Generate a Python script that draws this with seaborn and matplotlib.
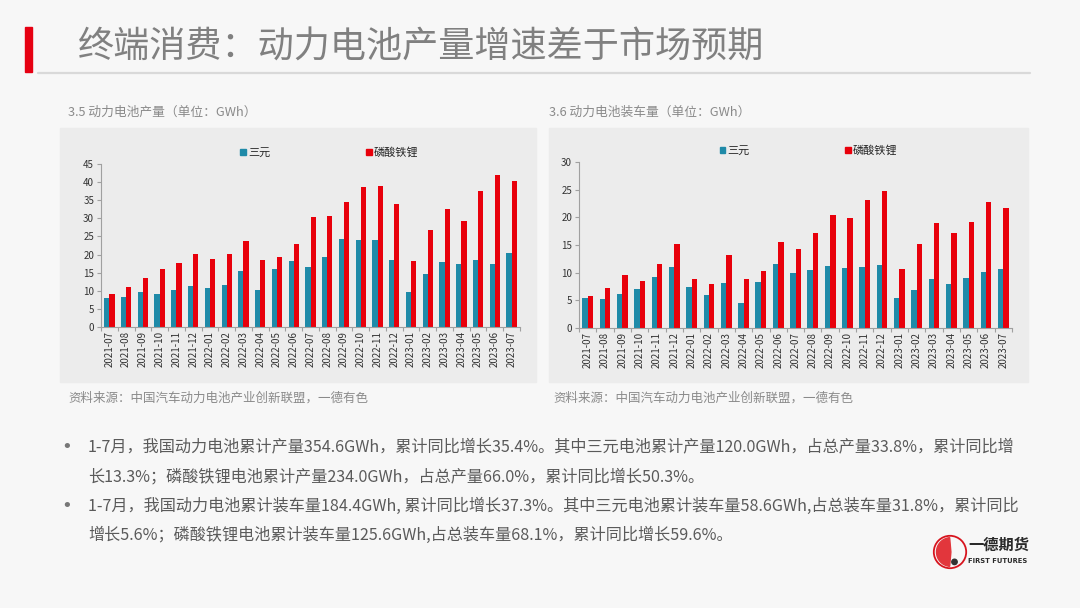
import matplotlib
matplotlib.use("Agg")
import matplotlib.pyplot as plt
import matplotlib.patches as mpatches
import pandas as pd
import seaborn as sns

months = ["2021-07", "2021-08", "2021-09", "2021-10", "2021-11", "2021-12",
          "2022-01", "2022-02", "2022-03", "2022-04", "2022-05", "2022-06",
          "2022-07", "2022-08", "2022-09", "2022-10", "2022-11", "2022-12",
          "2023-01", "2023-02", "2023-03", "2023-04", "2023-05", "2023-06",
          "2023-07"]

# 3.5 动力电池产量 (GWh)
prod_ncm = [8.0, 8.3, 9.6, 9.1, 10.3, 11.3, 10.8, 11.5, 15.5, 10.3, 16.1, 18.3,
            16.6, 19.2, 24.3, 24.1, 24.1, 18.4, 9.6, 14.5, 18.0, 17.5, 18.4, 17.5,
            20.3]
prod_lfp = [9.2, 11.1, 13.4, 16.0, 17.8, 20.1, 18.7, 20.1, 23.7, 18.6, 19.3, 23.0,
            30.3, 30.6, 34.6, 38.6, 39.0, 33.9, 18.3, 26.7, 32.6, 29.2, 37.6, 42.0,
            40.4]

# 3.6 动力电池装车量 (GWh)
inst_ncm = [5.5, 5.2, 6.2, 7.1, 9.2, 11.0, 7.4, 5.9, 8.1, 4.5, 8.3, 11.6,
            9.9, 10.4, 11.2, 10.8, 11.0, 11.3, 5.4, 6.8, 8.8, 8.0, 9.1, 10.1,
            10.6]
inst_lfp = [5.85, 7.2, 9.5, 8.5, 11.6, 15.1, 8.9, 7.9, 13.2, 8.9, 10.3, 15.5,
            14.3, 17.2, 20.4, 19.8, 23.1, 24.7, 10.7, 15.2, 19.0, 17.2, 19.2, 22.7,
            21.7]

series_names = ["三元", "磷酸铁锂"]
palette = {"三元": "#1F8AA8", "磷酸铁锂": "#E8000B"}

bullets = [
    "1-7月，我国动力电池累计产量354.6GWh，累计同比增长35.4%。其中三元电池累计产量120.0GWh，占总产量33.8%，累计同比增",
    "长13.3%；磷酸铁锂电池累计产量234.0GWh，占总产量66.0%，累计同比增长50.3%。",
    "1-7月，我国动力电池累计装车量184.4GWh, 累计同比增长37.3%。其中三元电池累计装车量58.6GWh,占总装车量31.8%，累计同比",
    "增长5.6%；磷酸铁锂电池累计装车量125.6GWh,占总装车量68.1%，累计同比增长59.6%。",
]


def long_df(a, b):
    return pd.DataFrame({
        "month": months * 2,
        "value": a + b,
        "type": [series_names[0]] * len(months) + [series_names[1]] * len(months),
    })


sns.set_theme(style="white")
plt.rcParams["font.family"] = ["Noto Sans CJK SC", "DejaVu Sans"]

W, H = 1080, 608
fig = plt.figure(figsize=(W / 100, H / 100), dpi=100)
fig.patch.set_facecolor("#f7f7f7")


def px(x, y):
    return x / W, 1 - y / H


# header
fig.patches.append(mpatches.Rectangle(px(25, 72), 7 / W, 45 / H, transform=fig.transFigure,
                                      color="#E60012", zorder=-1))
fig.add_artist(plt.Line2D([38 / W, 1030 / W], [1 - 73 / H, 1 - 73 / H], color="#d9d9d9", lw=1.6))
fig.text(*px(78, 48), "终端消费：动力电池产量增速差于市场预期", fontsize=26, color="#808080",
         fontweight="light", va="center", ha="left")

# chart panels
for x0, x1 in [(60, 536), (549, 1028)]:
    fig.patches.append(mpatches.Rectangle(px(x0, 382), (x1 - x0) / W, (382 - 128) / H,
                                          transform=fig.transFigure, color="#ececec", zorder=-1))

fig.text(*px(68, 112), "3.5 动力电池产量（单位：GWh）", fontsize=9.2, color="#8a8a8a", va="center")
fig.text(*px(549, 112), "3.6 动力电池装车量（单位：GWh）", fontsize=9.2, color="#8a8a8a", va="center")
fig.text(*px(68, 398), "资料来源：中国汽车动力电池产业创新联盟，一德有色", fontsize=9, color="#8a8a8a", va="center")
fig.text(*px(553, 398), "资料来源：中国汽车动力电池产业创新联盟，一德有色", fontsize=9, color="#8a8a8a", va="center")


def draw(rect, df, ymax, step, legend_x):
    ax = fig.add_axes(rect)
    ax.set_facecolor("none")
    sns.barplot(data=df, x="month", y="value", hue="type", palette=palette, ax=ax,
                width=0.62, gap=0, saturation=1, edgecolor="none")
    ax.set_xlim(-0.5, len(months) - 0.5)
    ax.set_ylim(0, ymax)
    ax.set_yticks(range(0, ymax + 1, step))
    ax.set_xlabel("")
    ax.set_ylabel("")
    for s in ["top", "right"]:
        ax.spines[s].set_visible(False)
    for s in ["left", "bottom"]:
        ax.spines[s].set_color("#a0a0a0")
        ax.spines[s].set_linewidth(0.8)
    ax.tick_params(axis="x", rotation=90, labelsize=7, colors="#333333", length=0, pad=3)
    ax.tick_params(axis="y", labelsize=7, colors="#333333", length=3, width=0.8, color="#a0a0a0",
                   left=True, pad=2)
    ax.set_xticks([i + 0.5 for i in range(-1, len(months))], minor=True)
    ax.tick_params(axis="x", which="minor", length=3, width=0.8, color="#a0a0a0", bottom=True)
    handles = [mpatches.Patch(color=palette[n], label=n) for n in series_names]
    ax.legend(handles=handles, ncol=2, frameon=False, loc="center", bbox_to_anchor=(legend_x, 1.07),
              handlelength=0.5, handleheight=0.5, handletextpad=0.2, columnspacing=8.6,
              fontsize=8)
    return ax


draw([101 / W, 1 - 327 / H, 419 / W, 163 / H], long_df(prod_ncm, prod_lfp), 45, 5, 0.545)
draw([579 / W, 1 - 328 / H, 433 / W, 166 / H], long_df(inst_ncm, inst_lfp), 30, 5, 0.53)

# bullet text
ys = [447, 477, 506, 535]
for i, (y, line) in enumerate(zip(ys, bullets)):
    if i % 2 == 0:
        fig.text(*px(61, y), "•", fontsize=13, color="#777777", va="center", family="DejaVu Sans")
    fig.text(*px(88, y), line, fontsize=11.6, color="#5a5a5a", va="center")

# logo
lax = fig.add_axes([932 / W, 1 - 570 / H, 36 / W, 36 / H])
lax.set_xlim(-1, 1)
lax.set_ylim(-1, 1)
lax.set_aspect("equal")
lax.axis("off")
lax.add_patch(mpatches.Circle((0, 0), 0.9, facecolor="none", edgecolor="#D7141E", lw=1.3))
lax.add_patch(mpatches.Wedge((0.05, 0.0), 0.8, 95, 265, color="#E2363C"))
lax.add_patch(mpatches.Circle((0.25, -0.55), 0.15, color="#333333"))
fig.text(*px(968, 545), "一德期货", fontsize=11, fontweight="bold", color="#2a2a2a", va="center")
fig.text(*px(968, 561), "FIRST FUTURES", fontsize=4.9, fontweight="bold", color="#2a2a2a", va="center",
         family="DejaVu Sans")

fig.savefig("out.png", dpi=100, facecolor=fig.get_facecolor())
